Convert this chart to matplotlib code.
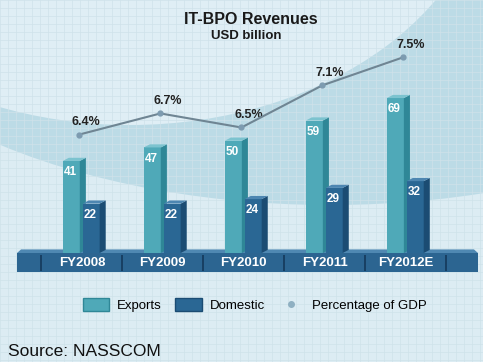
import numpy as np
import matplotlib
matplotlib.use("Agg")
from matplotlib import pyplot as plt
from matplotlib.patches import Ellipse, Patch
from matplotlib.lines import Line2D

# data
years = ["FY2008", "FY2009", "FY2010", "FY2011", "FY2012E"]
exports = [41, 47, 50, 59, 69]
domestic = [22, 22, 24, 29, 32]
gdp_pct = [6.4, 6.7, 6.5, 7.1, 7.5]

# colours
bg = "#dcecf3"
exp_front, exp_side, exp_top = "#4fa9b8", "#2f8797", "#7cc3cf"
dom_front, dom_side, dom_top = "#2a6794", "#1b4c73", "#4d86b1"
base_col, base_top = "#2c6591", "#4f88b2"

plt.rcParams['font.family'] = ['Liberation Sans', 'DejaVu Sans']

W, H = 483, 362
fig = plt.figure(figsize=(W / 100, H / 100), dpi=100, facecolor=bg)

# background: grid and swoosh
bgax = fig.add_axes([0, 0, 1, 1], zorder=-10)
bgax.set_xlim(0, W); bgax.set_ylim(H, 0); bgax.axis('off')
bgax.add_patch(Ellipse((330, -60), 1040, 530, color="#bcdbe6", lw=0))
bgax.add_patch(Ellipse((130, -140), 720, 530, color="#dfeef5", lw=0))
for g in np.arange(0, W, 8):
    bgax.axvline(g, color="#cfe2ea", lw=0.5)
for g in np.arange(0, H, 8):
    bgax.axhline(g, color="#cfe2ea", lw=0.5)

# main axes: bars
ax = fig.add_axes([17 / W, 89 / H, 461 / W, 243 / H])
ax.set_xlim(-0.80, 4.89)
ax.set_ylim(-8.9, 99.3)
ax.axis('off')
ax.patch.set_alpha(0)

x = np.arange(len(years))
w = 0.21
d, dy = 0.075, 1.4


def bar3d(xc, vals, front, side, top):
    ax.bar(xc, vals, width=w, color=front, lw=0, zorder=3)
    for xi, v in zip(xc, vals):
        r = xi + w / 2
        ax.fill([r, r + d, r + d, r], [0, dy, v + dy, v], color=side, lw=0, zorder=3)
        ax.fill([r - w, r - w + d, r + d, r], [v, v + dy, v + dy, v], color=top, lw=0, zorder=3)
        ax.text(xi - 0.01, v - 5, str(v), color="white", fontsize=8.5, fontweight='bold',
                ha='center', va='center', zorder=4)


bar3d(x - 0.13, exports, exp_front, exp_side, exp_top)
bar3d(x + 0.115, domestic, dom_front, dom_side, dom_top)

# base platform
xl = ax.get_xlim()
ax.fill([xl[0], xl[0] + 0.05, xl[1] - 0.05, xl[1]], [0, 1.6, 1.6, 0], color=base_top, lw=0, zorder=2)
ax.fill_between([xl[0], xl[1]], -8.5, 0, color=base_col, lw=0, zorder=2)
ax.vlines(np.arange(-0.5, len(years)), -8, -0.8, color="#15395a", lw=1.2, zorder=2)
for xi, lab in zip(x, years):
    ax.text(xi, -4.3, lab, color="white", fontsize=9.5, fontweight='bold',
            ha='center', va='center', zorder=4)

# percentage of GDP line
ax2 = ax.twinx()
ax2.set_ylim(4.43, 7.887)
ax2.axis('off')
ax2.plot(x - 0.03, gdp_pct, color="#6f8593", lw=1.5, marker='o', ms=3.5,
         mfc="#7d9bb0", mec="#7d9bb0", zorder=5)
for xi, p in zip(x - 0.03, gdp_pct):
    ax2.annotate(f"{p}%", (xi, p), xytext=(5, 9), textcoords='offset points',
                 ha='center', va='center', fontsize=9, fontweight='bold', color="#222222")

# titles
fig.text(251 / W, 1 - 19 / H, "IT-BPO Revenues", ha='center', va='center',
         fontsize=11.5, fontweight='bold', color="#1a1a1a")
fig.text(246 / W, 1 - 36 / H, "USD billion", ha='center', va='center',
         fontsize=9.5, fontweight='bold', color="#1a1a1a")

# legend
handles = [Patch(facecolor=exp_front, edgecolor=exp_side),
           Patch(facecolor=dom_front, edgecolor=dom_side),
           Line2D([], [], ls='none', marker='o', ms=4, mfc="#8fb0c2", mec="#8fb0c2")]
fig.legend(handles, ["Exports", "Domestic", "Percentage of GDP"], loc='center',
           bbox_to_anchor=(255 / W, 1 - 305 / H), ncol=3, frameon=False,
           fontsize=9.5, handlelength=2.0, handleheight=1.1, columnspacing=1.0,
           handletextpad=0.6)

fig.text(8 / W, 1 - 352 / H, "Source: NASSCOM", ha='left', va='center',
         fontsize=12.5, color="#111111")

fig.savefig("out.png", dpi=100, facecolor=bg)
